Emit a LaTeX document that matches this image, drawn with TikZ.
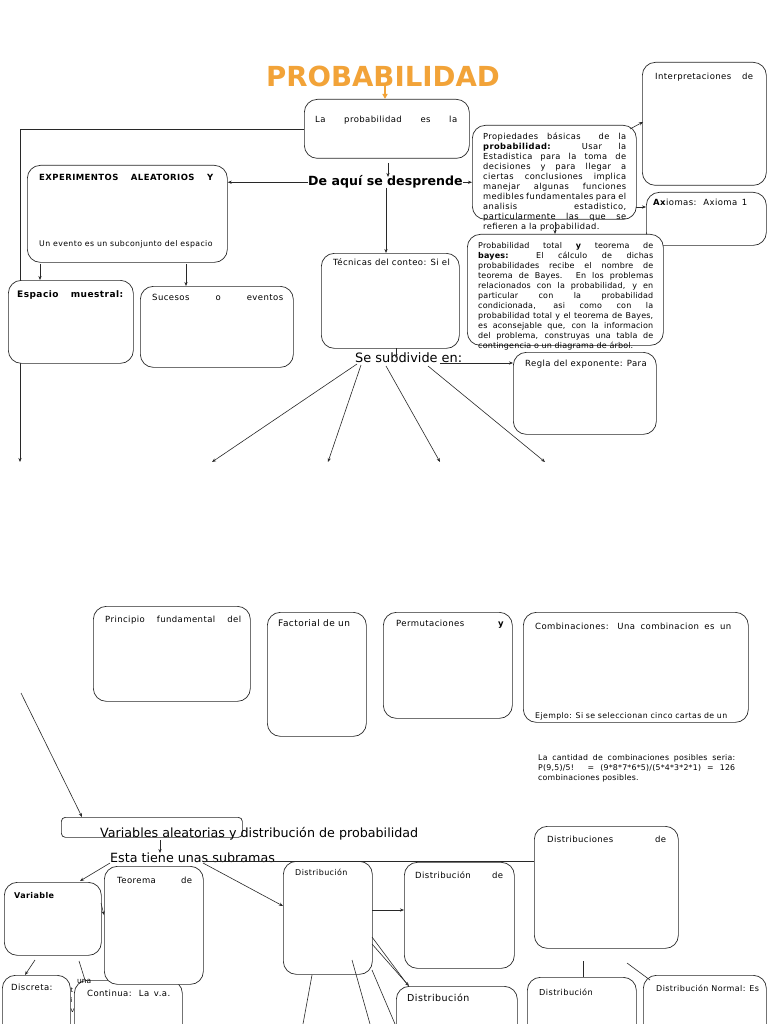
\documentclass[tikz,border=0pt]{standalone}
\usepackage{fontspec}
\setmainfont{DejaVu Sans}
\usetikzlibrary{arrows.meta}
\definecolor{ttl}{RGB}{242,163,56}
\definecolor{lnc}{RGB}{40,40,40}
\newcommand{\JL}[1]{\makebox[\linewidth][s]{#1}}
\newcommand{\JW}[2]{\makebox[#1][s]{#2}}
\newcommand{\fs}[1]{\fontsize{#1}{#1}\selectfont}
\newcommand{\ls}[1]{\addfontfeature{LetterSpace=#1}}
\begin{document}
\begin{tikzpicture}[x=1pt,y=-1pt,
  bx/.style={draw=lnc, line width=0.7pt, rounded corners=13pt, fill=white, anchor=north west, inner sep=0pt},
  ar/.style={draw=lnc, line width=0.6pt, -{Stealth[length=4pt,width=3.2pt]}},
  pl/.style={draw=lnc, line width=0.6pt},
  tx/.style={anchor=base west, inner sep=0pt, font=\fontsize{8.5}{9.9}\selectfont\ls{5}},
  big/.style={anchor=base west, inner sep=0pt, font=\fontsize{12.7}{14}\selectfont},
]
\useasboundingbox (0,0) rectangle (768,1024);
\fill[white] (0,0) rectangle (768,1024);
\clip (0,0) rectangle (768,1024);

% title
\node[font=\fontsize{27.6}{28}\selectfont\bfseries, text=ttl, inner sep=0pt] (title) at (383,76) {PROBABILIDAD};

% top box and long left connector
\node[bx, minimum width=165pt, minimum height=59pt] (b1) at (304,99) {};
\coordinate (e1) at (20,462);
\draw[ar] (b1.west) -| (e1);

% boxes
\node[bx, minimum width=200pt, minimum height=97pt] (exp) at (27,165) {};
\node[bx, minimum width=125pt, minimum height=83pt] (esp) at (8,280) {};
\node[bx, minimum width=153pt, minimum height=81pt] (suc) at (140,286) {};
\node[bx, minimum width=138pt, minimum height=95pt] (tec) at (321,253) {};
\node[bx, minimum width=143pt, minimum height=82pt] (reg) at (513,352) {};
\node[bx, minimum width=124pt, minimum height=123pt] (interp) at (642,62) {};
\node[bx, minimum width=120pt, minimum height=53pt] (ax) at (646,192) {};
\node[bx, minimum width=164pt, minimum height=94pt] (prop) at (472,125) {};
\node[bx, minimum width=196pt, minimum height=111pt] (ptot) at (467,234) {};

\node[bx, minimum width=157pt, minimum height=95pt] (prin) at (93,606) {};
\node[bx, minimum width=99pt, minimum height=124pt] (fac) at (267,612) {};
\node[bx, minimum width=129pt, minimum height=106pt] (perm) at (383,612) {};
\node[bx, minimum width=225pt, minimum height=110pt] (comb) at (523,612) {};

\node[bx, rounded corners=4pt, minimum width=181pt, minimum height=20pt] (va) at (61,817) {};

\node[bx, minimum width=97pt, minimum height=73pt] (vari) at (4,882) {};
\node[bx, minimum width=68pt, minimum height=80pt] (disc) at (2,975) {};
\node[tx, font=\fs{6.5}] (f1) at (70.5,992) {t};
\node[tx, font=\fs{6.5}] (f2) at (70.5,1002) {i};
\node[tx, font=\fs{6.5}] (f3) at (70.5,1012) {v};
\node[bx, minimum width=108pt, minimum height=80pt] (cont) at (74,980) {};
\node[bx, minimum width=99pt, minimum height=118pt] (teo) at (104,866) {};
\node[bx, minimum width=89pt, minimum height=113pt] (d1) at (283,861) {};
\node[bx, minimum width=110pt, minimum height=106pt] (dde) at (404,862) {};
\node[bx, minimum width=144pt, minimum height=122pt] (dsde) at (534,826) {};
\node[bx, minimum width=121pt, minimum height=80pt] (dB) at (396,986) {};
\node[bx, minimum width=109pt, minimum height=80pt] (dC) at (527,977) {};
\node[bx, minimum width=123pt, minimum height=80pt] (dN) at (643,975) {};

% texts
\node[tx] (tb1) at (315,123) {\JW{142pt}{La probabilidad es la}};
\node[tx, font=\fs{8.5}\ls{5}\bfseries] (texp) at (39,181) {\JW{174pt}{EXPERIMENTOS ALEATORIOS Y}};
\node[tx, font=\fs{7.8}\ls{5}] (texp2) at (39,247) {Un evento es un subconjunto del espacio};
\node[tx, font=\fs{9}\ls{5}\bfseries] (tesp) at (17,297) {\JW{106pt}{Espacio muestral:}};
\node[tx] (tsuc) at (152,300) {\JW{131pt}{Sucesos o eventos}};
\node[tx] (ttec) at (333,265) {Técnicas del conteo: Si el};
\node[tx] (treg) at (525,366) {Regla del exponente: Para};
\node[tx] (tint) at (655,80) {\JW{98pt}{Interpretaciones de}};
\node[tx] (tax) at (653,206) {\JW{94pt}{\textbf{Ax}iomas: Axioma 1}};

\node[tx, font=\fontsize{8.3}{9.9}\selectfont\ls{5}] (tprop) at (483,140) {\parbox[t]{143pt}{%
\JL{Propiedades básicas \ de la}\\
\JL{\textbf{probabilidad:} Usar la}\\
\JL{Estadistica para la toma de}\\
\JL{decisiones y para llegar a}\\
\JL{ciertas conclusiones implica}\\
\JL{manejar algunas funciones}\\
\JL{medibles fundamentales para el}\\
\JL{analisis estadistico,}\\
\JL{particularmente las que se}\\
refieren a la probabilidad.}};

\node[tx, font=\fontsize{8}{10.05}\selectfont\ls{2}] (tptot) at (478,248) {\parbox[t]{175pt}{%
\JL{Probabilidad total \textbf{y} teorema de}\\
\JL{\textbf{bayes:} El cálculo de dichas}\\
\JL{probabilidades recibe el nombre de}\\
\JL{teorema de Bayes. En los problemas}\\
\JL{relacionados con la probabilidad, y en}\\
\JL{particular con la probabilidad}\\
\JL{condicionada, asi como con la}\\
\JL{probabilidad total y el teorema de Bayes,}\\
\JL{es aconsejable que, con la informacion}\\
\JL{del problema, construyas una tabla de}\\
contingencia o un diagrama de árbol.}};

\node[tx] (tprin) at (105,622) {\JW{136pt}{Principio fundamental del}};
\node[tx, font=\fs{9}\ls{5}] (tfac) at (278,626) {Factorial de un};
\node[tx] (tperm) at (396,626) {\JW{108pt}{Permutaciones \textbf{y}}};
\node[tx] (tcomb) at (535,629) {\JW{196pt}{Combinaciones: Una combinacion es un}};
\node[tx, font=\fs{7.8}\ls{5}] (tcomb2) at (535,718) {\JW{192pt}{Ejemplo: Si se seleccionan cinco cartas de un}};
\node[tx, font=\fontsize{7.8}{10}\selectfont\ls{3}] (tcant) at (538,760) {\parbox[t]{197pt}{%
\JL{La cantidad de combinaciones posibles seria:}\\
\JL{P(9,5)/5! = (9*8*7*6*5)/(5*4*3*2*1) = 126}\\
combinaciones posibles.}};

\node[big] (vat) at (100,837) {Variables aleatorias y distribución de probabilidad};
\node[big] (esta) at (110,862) {Esta tiene unas subramas};
\node[big, font=\fs{12.9}] (sub) at (355,362) {Se subdivide en:};
\node[big, font=\fs{12.6}\bfseries] (desp) at (308,186) {De aquí se desprende};

\node[tx, font=\fs{8}\ls{5}\bfseries] (tvari) at (14,898) {Variable};
\node[tx] (tteo) at (117,883) {\JW{75pt}{Teorema de}};
\node[tx] (tdisc) at (11,990) {Discreta:};
\node[tx] (tcont) at (87,996) {\JW{83pt}{Continua: La v.a.}};
\node[tx, font=\fs{7.5}] (tuna) at (77,983) {una};
\node[tx, font=\fs{8}\ls{5}] (td1) at (295,875) {Distribución};
\node[tx] (tdde) at (415,878) {\JW{88pt}{Distribución de}};
\node[tx] (tdsde) at (547,842) {\JW{119pt}{Distribuciones de}};
\node[tx, font=\fs{9.5}\ls{5}] (tdB) at (407,1001) {Distribución};
\node[tx, font=\fs{8.2}\ls{5}] (tdC) at (539,995) {Distribución};
\node[tx, font=\fs{8}\ls{5}] (tdN) at (656,991) {Distribución Normal: Es};

% connectors
\coordinate (ta) at (385,84);
\draw[ttl, line width=1.6pt, -{Triangle[length=5pt,width=5pt]}] (ta) -- (ta |- b1.north);
\draw[ar] (388,163) -- (388,177);
\draw[ar] (desp.west) -- (exp.east |- desp.west);
\draw[ar] (desp.east) -- (prop.west |- desp.east);
\draw[ar] (386,188) -- (386,253);
\draw[ar] (40,264) -- (40,280);
\draw[ar] (186,264) -- (186,286);
\draw[ar] (396,348) -- (396,358);
\draw[ar] (357,364) -- (212,462);
\draw[ar] (361,365) -- (328,462);
\draw[ar] (386,366) -- (440,462);
\draw[ar] (428,366) -- (545,462);
\draw[ar] (440,363) -- (reg.west |- 440,363);
\draw[ar] (630,129) -- (643,122);
\draw[ar] (636,207) -- (646,207);
\draw[ar] (555,222) -- (555,234);
\draw[ar] (21,693) -- (82,817);
\draw[ar] (160,840) -- (160,853);
\draw[pl] (205,861) -- (dsde.west |- 205,861);
\draw[ar] (110,863) -- (80,881);
\draw[ar] (203,863) -- (283,906);
\draw[ar] (101,903) -- (104,915);
\draw[ar] (35,960) -- (25,975);
\draw[pl] (79,961) -- (85,980);
\draw[ar] (372,910) -- (404,910);
\draw[pl] (372,937) -- (407,984);
\draw[ar] (372,944) -- (409,986);
\draw[pl] (312,975) -- (303,1024);
\draw[pl] (352,960) -- (370,1024);
\draw[pl] (372,970) -- (395,1024);
\draw[pl] (583,961) -- (583,977);
\draw[pl] (627,963) -- (650,980);
\end{tikzpicture}
\end{document}
